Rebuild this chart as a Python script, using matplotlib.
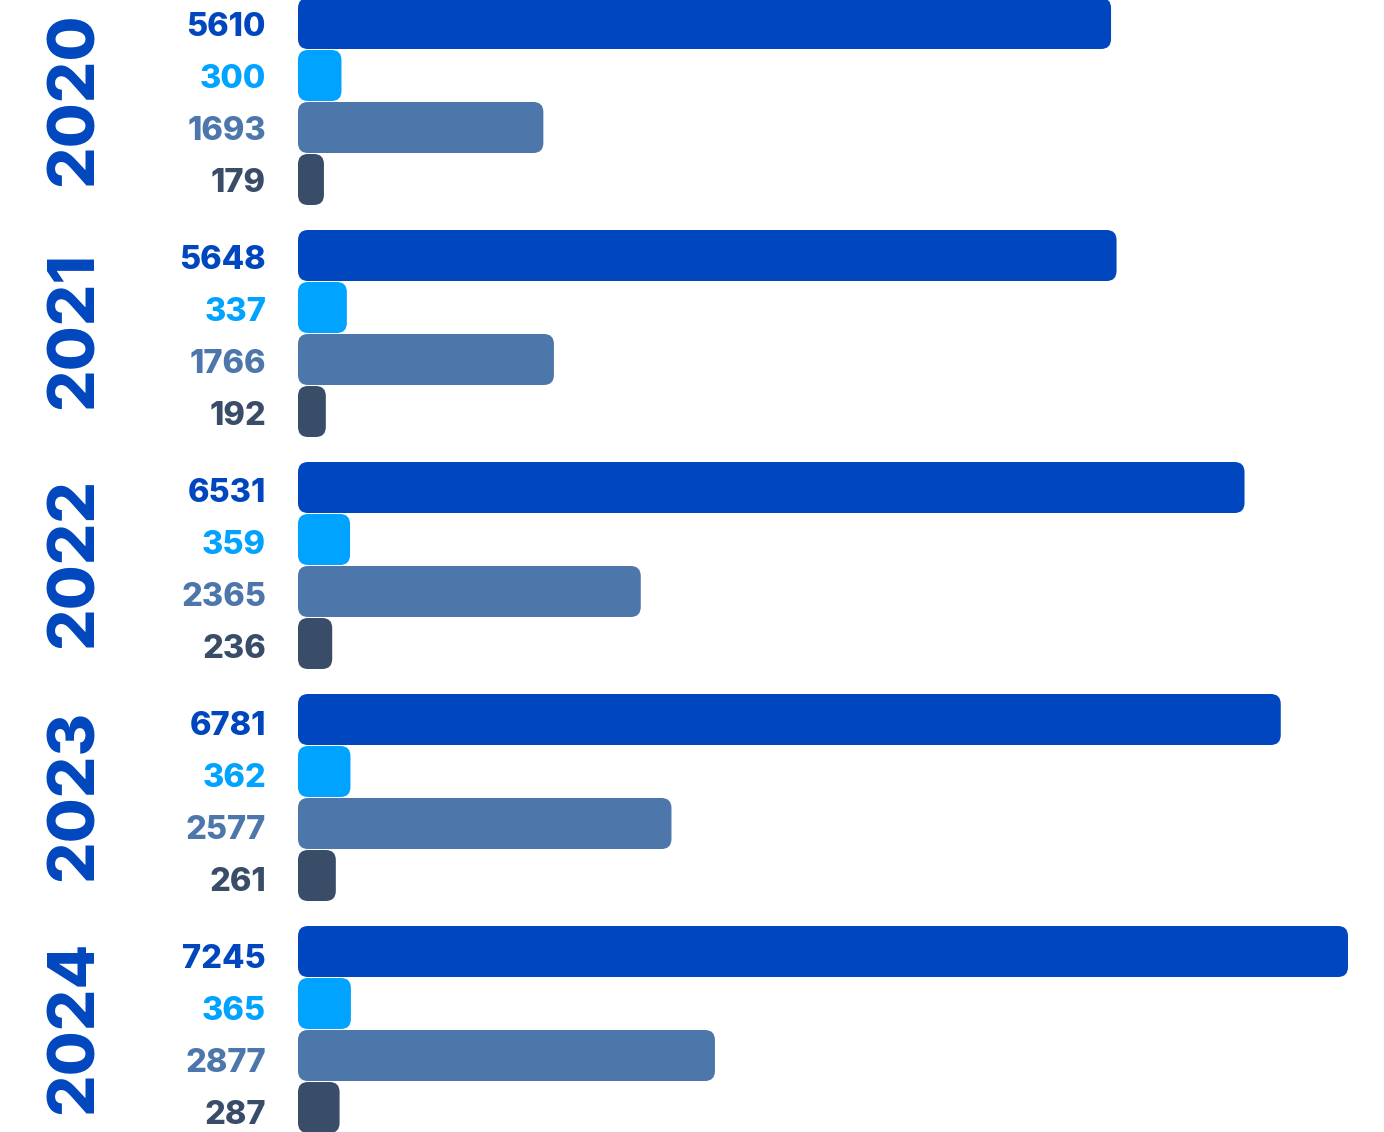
import matplotlib
matplotlib.use("Agg")
import matplotlib.pyplot as plt
import matplotlib.transforms as mtransforms
from matplotlib.patches import FancyBboxPatch
import numpy as np

plt.rcParams['font.family'] = ['Inter', 'DejaVu Sans']

years = ["2020", "2021", "2022", "2023", "2024"]
series_a = [5610, 5648, 6531, 6781, 7245]
series_b = [300, 337, 359, 362, 365]
series_c = [1693, 1766, 2365, 2577, 2877]
series_d = [179, 192, 236, 261, 287]

colors = ["#0047BF", "#00A3FF", "#4D76AB", "#394D69"]

W, H = 1384, 1132
fig = plt.figure(figsize=(W / 100, H / 100), dpi=100)
left_px = 298
ax = fig.add_axes([left_px / W, 0, (W - left_px) / W, 1])

px_per_unit = 1050 / 7245
ax.set_xlim(0, (W - left_px) / px_per_unit)

# row layout: pitch 1 row = 52 px, group pitch 232 px
row_px = 52.0
group_step = 232 / row_px
ax.set_ylim(20.846 + (1132 - 1107.5) / row_px, -23.5 / row_px)
ax.axis("off")

values = [series_a, series_b, series_c, series_d]
x_unit_per_px = 1 / px_per_unit
y_unit_per_px = 1 / row_px
aspect = y_unit_per_px / x_unit_per_px

for k, vals in enumerate(values):
    ypos = np.arange(len(years)) * group_step + k
    bars = ax.barh(ypos, vals, height=51 / row_px, color=colors[k])
    for g, (b, v, y) in enumerate(zip(bars, vals, ypos)):
        x0, y0 = b.get_x(), b.get_y()
        w, h = b.get_width(), b.get_height()
        b.remove()
        r_px = min(10, w * px_per_unit / 2)
        patch = FancyBboxPatch((x0, y0), w, h,
                               boxstyle=f"round,pad=0,rounding_size={r_px * x_unit_per_px}",
                               mutation_aspect=aspect, fc=colors[k], ec="none")
        ax.add_patch(patch)
        off = mtransforms.offset_copy(ax.transData, fig=fig, x=-32, y=-1.2 * g, units="dots")
        ax.text(0, y, str(v), transform=off, ha="right", va="center_baseline",
                fontsize=23.5, fontweight=800, color=colors[k])

blend = mtransforms.blended_transform_factory(fig.transFigure, ax.transData)
for g, yr in enumerate(years):
    yc = g * group_step + 1.45
    ax.text(76 / W, yc, yr, transform=blend, rotation=90, ha="center", va="center",
            fontsize=47, fontweight=800, color=colors[0])

fig.savefig("out.png", dpi=100)
